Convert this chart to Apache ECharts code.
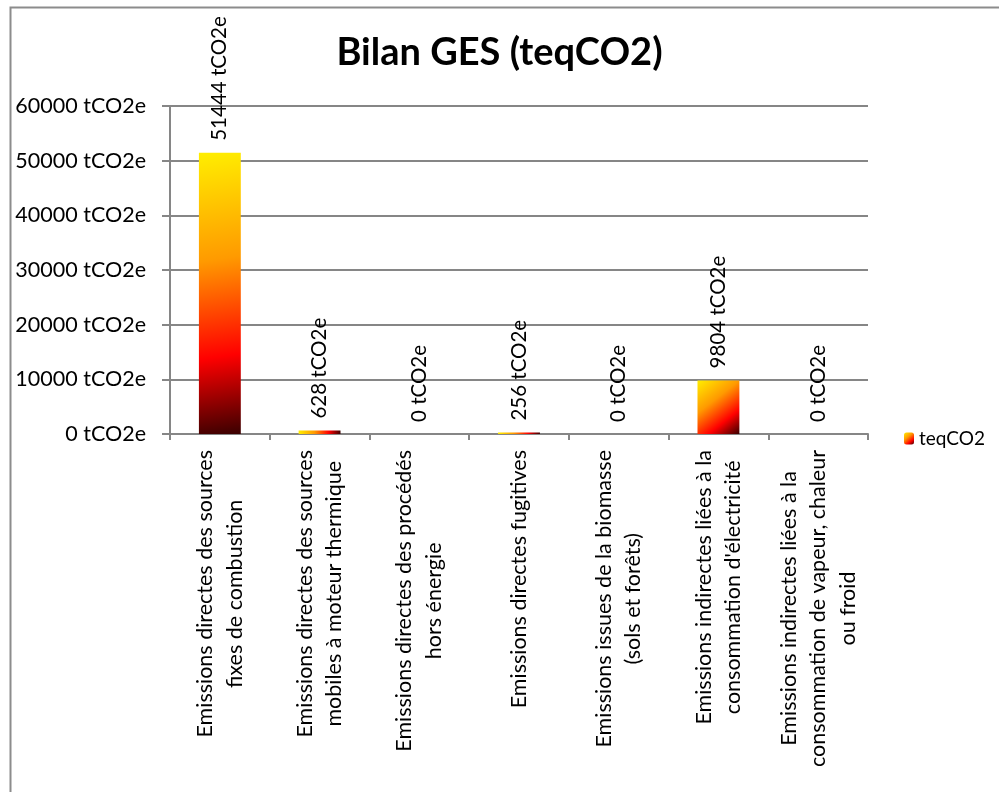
<!DOCTYPE html>
<html>
<head>
<meta charset="utf-8">
<script src="https://cdn.jsdelivr.net/npm/echarts@6/dist/echarts.min.js"></script>
<style>
html,body{margin:0;padding:0;background:#fff;}
#chart{width:999px;height:792px;}
</style>
</head>
<body>
<div id="chart"></div>
<script>
const titleText = 'Bilan GES (teqCO2)';
const seriesName = 'teqCO2';
const unit = ' tCO2e';
const categories = [
  'Emissions directes des sources\nfixes de combustion',
  'Emissions directes des sources\nmobiles à moteur thermique',
  'Emissions directes des procédés\nhors énergie',
  'Emissions directes fugitives',
  'Emissions issues de la biomasse\n(sols et forêts)',
  "Emissions indirectes liées à la\nconsommation d'électricité",
  'Emissions indirectes liées à la\nconsommation de vapeur, chaleur\nou froid'
];
const values = [51444, 628, 0, 256, 0, 9804, 0];
const yMin = 0, yMax = 60000, yStep = 10000;

const FONT = 'Lato';
const grey = '#868686';
const grad = new echarts.graphic.LinearGradient(0, 0, 1, 1, [
  {offset: 0, color: '#FFEE00'},
  {offset: 0.38, color: '#FF9A00'},
  {offset: 0.72, color: '#FF0000'},
  {offset: 1, color: '#3A0000'}
]);

const chart = echarts.init(document.getElementById('chart'), null, {renderer: 'canvas'});
chart.setOption({
  animation: false,
  backgroundColor: '#fff',
  textStyle: {fontFamily: FONT},
  graphic: [{
    type: 'rect', left: 8, top: 5, silent: true,
    shape: {x: 0, y: 0, width: 1200, height: 1000},
    style: {fill: 'none', stroke: '#8c8c8c', lineWidth: 2}
  }],
  title: {
    text: titleText, left: 'center', top: 29,
    textStyle: {fontFamily: FONT, fontWeight: 'bold', fontSize: 38, color: '#000'}
  },
  legend: {
    data: [seriesName], left: 904, top: 429, padding: 0, itemWidth: 10, itemHeight: 12,
    textStyle: {fontFamily: FONT, fontSize: 19, color: '#000'}
  },
  grid: {left: 170, right: 131, top: 106, bottom: 358, containLabel: false},
  xAxis: {
    type: 'category', data: categories,
    axisLine: {show: true, lineStyle: {color: grey, width: 2}},
    axisTick: {show: true, alignWithLabel: false, length: 6, lineStyle: {color: grey, width: 2}},
    axisLabel: {
      rotate: 90, margin: 16, interval: 0, color: '#000',
      formatter: v => v.split('\n').map(l => '{c|' + l + '}').join('\n'),
      rich: {c: {align: 'center', fontFamily: FONT, fontSize: 21.5, lineHeight: 29.5, color: '#000'}}
    }
  },
  yAxis: {
    type: 'value', min: yMin, max: yMax, interval: yStep,
    axisLine: {show: true, lineStyle: {color: grey, width: 2}},
    axisTick: {show: true, length: 8, lineStyle: {color: grey, width: 2}},
    splitLine: {show: true, lineStyle: {color: grey, width: 2}},
    axisLabel: {margin: 24, color: '#000', fontFamily: FONT, fontSize: 21.5, formatter: v => v + unit}
  },
  series: [{
    name: seriesName, type: 'bar', data: values, barWidth: '42%',
    itemStyle: {color: grad},
    label: {
      show: true, position: 'top', rotate: 90, distance: 12,
      align: 'left', verticalAlign: 'middle',
      fontFamily: FONT, fontSize: 20.5, color: '#000',
      formatter: p => p.value + unit
    }
  }]
});
</script>
</body>
</html>
